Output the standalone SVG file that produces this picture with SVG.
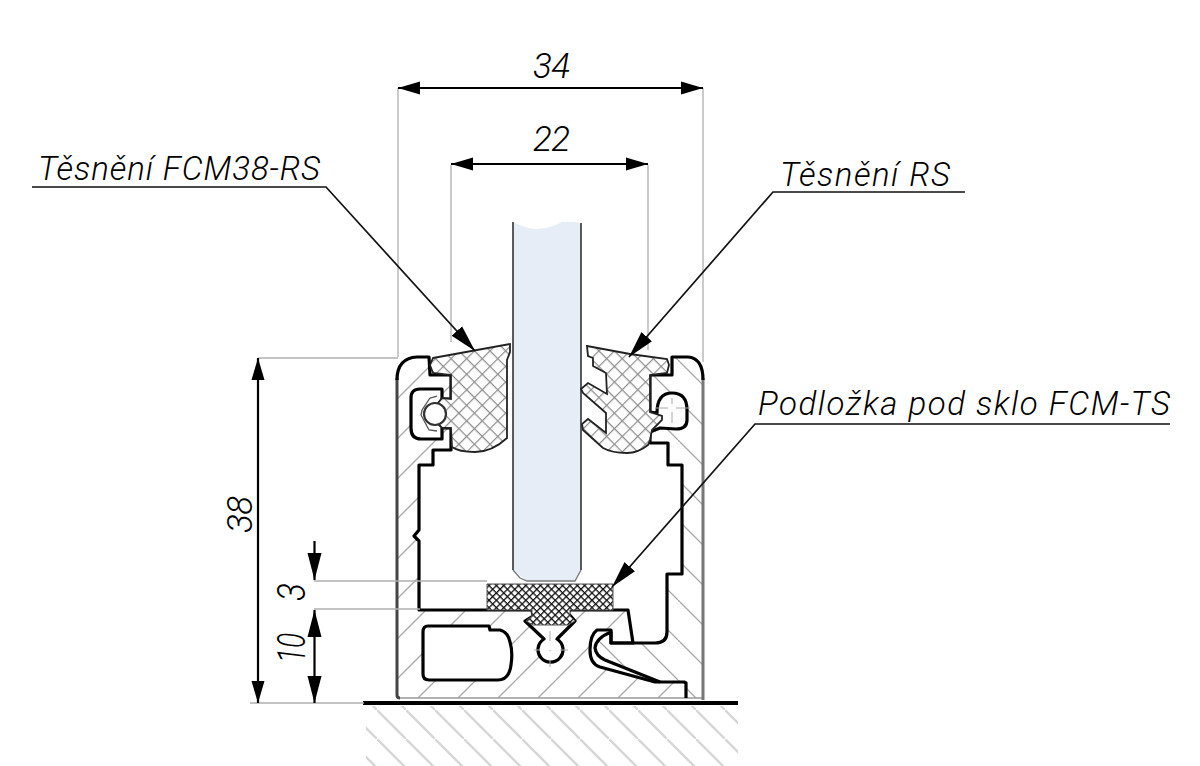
<svg xmlns="http://www.w3.org/2000/svg" width="1200" height="766" viewBox="0 0 1200 766">
<style>
text{font-family:Roboto,"Liberation Sans",Arial,sans-serif;font-style:italic;font-weight:300;font-size:33px;fill:#000}
.num{font-size:35px}
.big{font-size:39px}
.ext{stroke:#b0b0b0;stroke-width:1.3;fill:none}
.dim{stroke:#000;stroke-width:2.2;fill:none}
.lead{stroke:#111;stroke-width:1.7;fill:none}
.prof{stroke:#000;stroke-width:3.2;fill:none;stroke-linejoin:round}
.seal{stroke:#222;stroke-width:1.8;fill:url(#cross)}
.thin{stroke:#aaa;stroke-width:1;fill:none}
</style>
<defs>
<marker id="a" markerUnits="userSpaceOnUse" markerWidth="24" markerHeight="14" refX="22" refY="7" orient="auto-start-reverse"><path d="M0,0.5 L22,7 L0,13.5 Z" fill="#000"/></marker>
<marker id="b" markerUnits="userSpaceOnUse" markerWidth="28" markerHeight="16" refX="27" refY="8" orient="auto-start-reverse"><path d="M0,1 L27,8 L0,15 Z" fill="#000"/></marker>
<pattern id="fw" patternUnits="userSpaceOnUse" width="40" height="40"><path d="M36,0 L0,36 M40,36 L36,40" stroke="#a8a8a8" stroke-width="1.3" fill="none"/></pattern>
<pattern id="bk" patternUnits="userSpaceOnUse" width="40" height="40"><path d="M0,2 L38,40 M38,0 L40,2" stroke="#a8a8a8" stroke-width="1.3" fill="none"/></pattern>
<pattern id="gd" patternUnits="userSpaceOnUse" width="29" height="29" patternTransform="translate(0,14)"><path d="M0,0 L29,29" stroke="#d6d6d6" stroke-width="2.4" fill="none"/></pattern>
<pattern id="cross" patternUnits="userSpaceOnUse" width="11" height="11" patternTransform="rotate(45)"><rect width="11" height="11" fill="#fff"/><path d="M0,0 H11 M0,0 V11" stroke="#8e8e8e" stroke-width="2.4"/></pattern>
<pattern id="dense" patternUnits="userSpaceOnUse" width="5.2" height="5.2" patternTransform="rotate(45)"><rect width="5.2" height="5.2" fill="#fff"/><path d="M0,0 H5.2 M0,0 V5.2" stroke="#111" stroke-width="2.6"/></pattern>
</defs>
<rect width="1200" height="766" fill="#fff"/>

<g id="ground">
<rect x="366" y="706" width="372" height="60" fill="url(#gd)"/>
<path d="M363,703 H738" stroke="#000" stroke-width="4" fill="none"/>
</g>

<g id="profile">
<path fill="url(#fw)" fill-rule="evenodd" d="M397,698 L397,378 Q397,358 417,357 L429,357 L430,375 L451,375 L451,399 L442,399 L442,389 L420,389 Q411,389 411,398 L411,428 Q411,439 421,439 L442,439 L442,428 L451,428 L451,450 L433,450 L433,465 L419,465 L419,530 L414,536 L419,541 L419,610 L532,610 L533,616 L525,621 L544,639 A12.5,12.5 0 1 0 557,639 L575,621 L568,613 L570,610 L628,610 L633,643 L611,643 L611,630 L597,630 Q590,635 590,650 Q590,664 600,667 L655,682 L684,682 L686,698 Z M428,626 L489,626 L490,630 L500,630 Q508,632 510,642 Q513,652 511,665 Q509,680 498,680 L429,680 Q423,680 423,674 L423,632 Q423,626 428,626 Z"/>
<path fill="url(#bk)" d="M703,698 L703,372 Q703,358 688,357 L672,357 L672,375 L650,375 L650,412 L657,413 Q657,393 672,393 Q687,393 687,410 L687,420 Q687,429 676,429 L660,428 L650,432 L650,443 L668,443 L668,465 L682,465 L682,574 L667,574 L667,632 Q667,643 655,643 L611,643 L611,632 L597,640 Q594,650 600,655 L660,682 L684,682 L686,698 Z"/>
<path d="M397,378 V695 Q397,698 400,698" fill="none" stroke="#444" stroke-width="3"/>
<path d="M400,698 H703" fill="none" stroke="#999" stroke-width="1.5"/>
<path d="M703,378 V700" fill="none" stroke="#777" stroke-width="3"/>
<path class="prof" d="M397,380 Q397,358 417,357 L429,357 L430,375 L451,375 L451,399 L442,399 L442,389 L420,389 Q411,389 411,398 L411,428 Q411,439 421,439 L442,439 L442,428 L451,428 L451,450 L433,450 L433,465 L419,465 L419,530 L414,536 L419,541 L419,610 L532,610 L533,616 L525,621 L544,639 A12.5,12.5 0 1 0 557,639 L575,621 L568,613 L570,610 L628,610 L633,643 L611,643 L611,630 L597,630 Q590,635 590,650 Q590,664 600,667 L655,682 L684,682 L686,683 L686,698"/>
<path class="prof" d="M703,380 Q703,358 688,357 L672,357 L672,375 L650,375 L650,412 L657,413 Q657,393 672,393 Q687,393 687,410 L687,420 Q687,429 676,429 L660,428 L650,432 L650,443 L668,443 L668,465 L682,465 L682,574 L667,574 L667,632 Q667,643 655,643 L611,643 L611,632 Q596,638 595,648 Q596,656 605,660 L660,682"/>
<path class="prof" d="M423,632 Q423,626 428,626 L489,626 L490,630 L500,630 Q508,632 510,642 Q513,652 511,665 Q509,680 498,680 L429,680 Q423,680 423,674 Z"/>
<path class="thin" d="M550,631 V641 M550,650 V651 M534,650 H540 M560,650 H568 M550,660 V667 M672,398 V404 M672,412 V423 M656,408 H668 M676,408 H690"/>
</g>

<g id="glass">
<path d="M513,222 Q525,228 535,229 Q548,229 562,222 Q570,221 581,223 L581,570 L575,581 L527,581 L513,570 Z" fill="#e6edf6"/>
<path d="M513,222 V570 M581,223 V570" stroke="#333" stroke-width="1.6" fill="none"/>
<path d="M513,570 L520,578 L527,581 H575 L581,570" stroke="#777" stroke-width="1.3" fill="none"/>
</g>

<g id="seal-left">
<path class="seal" d="M433,358 L510,344 L510,352 L507,360 L507,438 Q492,452 475,452 Q459,452 452,447 L451,428 L442,428 L438,424 A12,12 0 0 0 438,403 L442,398 L451,399 L451,375 L433,373 L430,365 Z"/>
<circle cx="435" cy="414" r="11" fill="#fff" stroke="#333" stroke-width="2.2"/>
<path d="M430,398 L422,410 L421,415 L429,430 L437,431 M430,398 L437,396" fill="none" stroke="#555" stroke-width="1.3"/>
</g>

<g id="seal-right">
<path class="seal" d="M587,346 L630,354 L667,359 L669,365 L667,373 L650,375 L650,412 L662,416 L662,420 L652,430 L650,440 L648,445 Q638,453 627,453 Q612,453 603,448 L583,430 L582,424 L588,419 L606,433 L606,413 L583,393 L581,389 L588,383 L607,394 L606,373 L593,366 L593,358 L588,356 Z"/>
</g>

<g id="pad">
<path d="M487,584 H613 V610 H570 V616 L575,621 L568,625 H533 L526,621 L532,616 V610 H487 Z" fill="url(#dense)" stroke="#555" stroke-width="1"/>
</g>

<g id="connectors">
<path class="ext" d="M398,88 V357 M703,88 V362 M451,165 V342 M648,165 V350 M258,358 H398 M314,581 H487 M314,609 H420 M250,703 H364"/>
<path class="dim" d="M398,88 H703" marker-start="url(#a)" marker-end="url(#a)"/>
<path class="dim" d="M451,164 H648" marker-start="url(#a)" marker-end="url(#a)"/>
<path class="dim" d="M258,358 V703" marker-start="url(#a)" marker-end="url(#a)"/>
<path class="dim" d="M314.5,541 V580" marker-end="url(#b)"/>
<path class="dim" d="M314.5,610 V703" marker-start="url(#b)" marker-end="url(#b)"/>
<path class="lead" d="M32,187 H326 L475,351" marker-end="url(#b)"/>
<path class="lead" d="M965,192 H773 L629,357" marker-end="url(#b)"/>
<path class="lead" d="M1170,424 H755 L612,587" marker-end="url(#b)"/>
</g>

<g id="labels">
<text x="38" y="180" textLength="282" lengthAdjust="spacing">Těsnění FCM38-RS</text>
<text x="780" y="186" textLength="170" lengthAdjust="spacing">Těsnění RS</text>
<text x="758" y="415" textLength="412" lengthAdjust="spacing">Podložka pod sklo FCM-TS</text>
<text class="num" x="533" y="78" textLength="37" lengthAdjust="spacing">34</text>
<text class="num" x="533" y="151" textLength="37" lengthAdjust="spacing">22</text>
<text class="num" transform="translate(252,533) rotate(-90)" textLength="37" lengthAdjust="spacing">38</text>
<text class="big" transform="translate(305,601) rotate(-90) scale(.85,1)">3</text>
<text class="big" transform="translate(305,663) rotate(-90) scale(.72,1)">10</text>
</g>
</svg>
